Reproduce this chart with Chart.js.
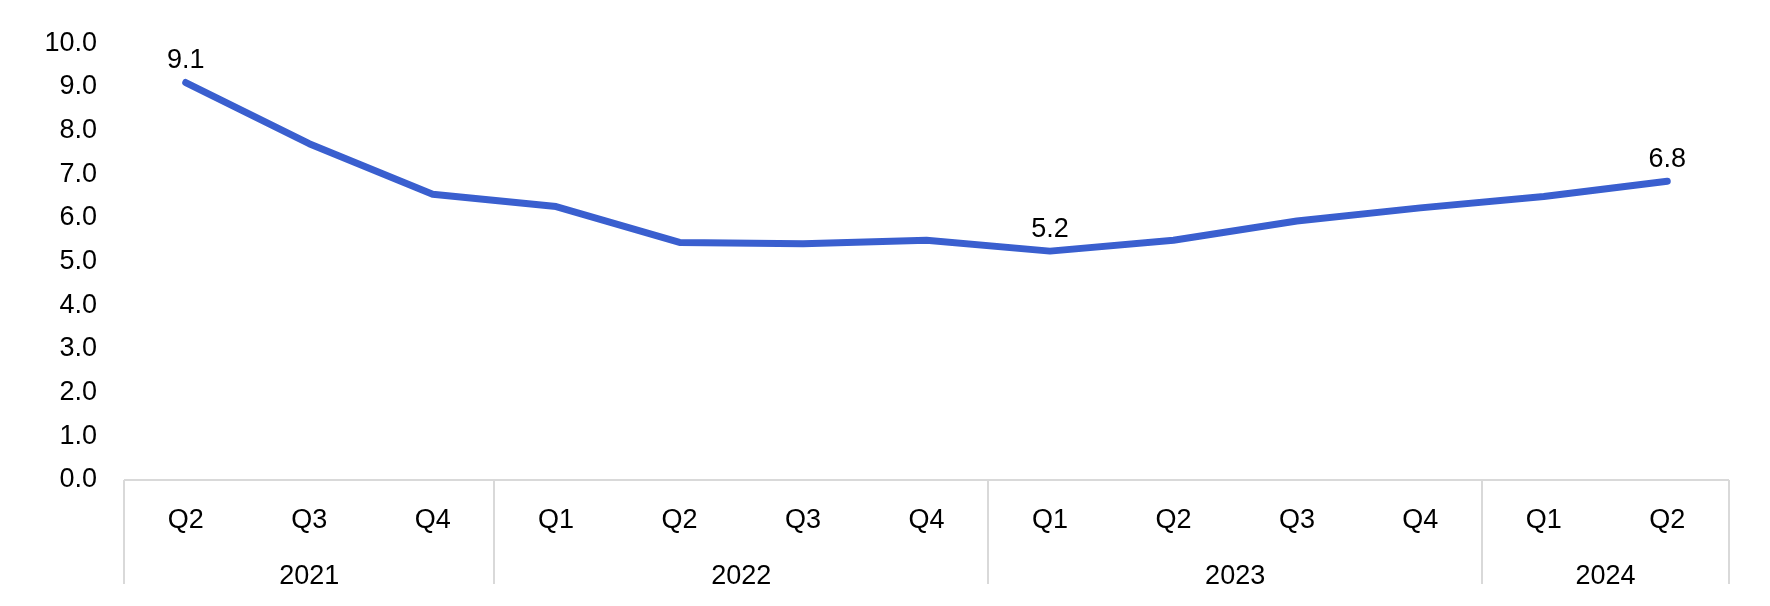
<!DOCTYPE html>
<html>
<head>
<meta charset="utf-8">
<script src="https://cdn.jsdelivr.net/npm/chart.js@4/dist/chart.umd.min.js"></script>
<style>
    html, body { margin: 0; padding: 0; background: #ffffff; }
    #wrap { width: 1770px; height: 606px; position: relative; }
</style>
</head>
<body>
<div id="wrap"><canvas id="lineChart"></canvas></div>
<script>
/* =========================
   DATA
========================= */

const quarters = ["Q2", "Q3", "Q4", "Q1", "Q2", "Q3", "Q4", "Q1", "Q2", "Q3", "Q4", "Q1", "Q2"];
const years = ["2021", "2022", "2023", "2024"];
const quartersPerYear = [3, 4, 4, 2];
const values = [9.1, 7.7, 6.54, 6.26, 5.44, 5.41, 5.49, 5.24, 5.49, 5.93, 6.23, 6.49, 6.84];
const labelledPoints = [0, 7, 12];

const FONT = "'Liberation Sans', Arial, Helvetica, sans-serif";
const LINE_GREY = "#d9d9d9";

/* =========================
   CATEGORY BOXES + YEAR ROW
========================= */

const yearAxisPlugin = {
    id: "yearAxis",
    afterDraw(chart) {
        const ctx = chart.ctx;
        const x = chart.scales.x;
        const area = chart.chartArea;
        const bottom = 584;
        const half = (x.getPixelForValue(1) - x.getPixelForValue(0)) / 2;

        ctx.save();
        ctx.strokeStyle = LINE_GREY;
        ctx.lineWidth = 2;

        ctx.beginPath();
        ctx.moveTo(area.left, area.bottom);
        ctx.lineTo(area.right, area.bottom);
        ctx.stroke();

        let start = 0;
        const edges = [x.getPixelForValue(0) - half];
        years.forEach((year, i) => {
            const end = start + quartersPerYear[i] - 1;
            edges.push(x.getPixelForValue(end) + half);

            const mid = (x.getPixelForValue(start) + x.getPixelForValue(end)) / 2;
            ctx.fillStyle = "#000000";
            ctx.font = "27px " + FONT;
            ctx.textAlign = "center";
            ctx.textBaseline = "middle";
            ctx.fillText(year, mid, 577);

            start = end + 1;
        });

        edges.forEach(px => {
            ctx.beginPath();
            ctx.moveTo(Math.round(px), area.bottom);
            ctx.lineTo(Math.round(px), bottom);
            ctx.stroke();
        });

        ctx.restore();
    }
};

/* =========================
   DATA LABELS
========================= */

const pointLabelPlugin = {
    id: "pointLabels",
    afterDatasetsDraw(chart) {
        const ctx = chart.ctx;
        const meta = chart.getDatasetMeta(0);

        ctx.save();
        ctx.fillStyle = "#000000";
        ctx.font = "27px " + FONT;
        ctx.textAlign = "center";
        ctx.textBaseline = "middle";

        labelledPoints.forEach(i => {
            const pt = meta.data[i];
            ctx.fillText(values[i].toFixed(1), pt.x, pt.y - 22);
        });

        ctx.restore();
    }
};

/* =========================
   CHART
========================= */

const canvas = document.getElementById("lineChart");

new Chart(canvas, {

    type: "line",

    data: {
        labels: quarters,
        datasets: [{
            data: values,
            borderColor: "#3a5fcf",
            borderWidth: 7,
            borderCapStyle: "round",
            borderJoinStyle: "round",
            pointRadius: 0,
            tension: 0,
            fill: false
        }]
    },

    options: {
        responsive: true,
        maintainAspectRatio: false,
        animation: false,

        layout: {
            padding: { top: 36, right: 41, bottom: 0, left: 0 }
        },

        plugins: {
            legend: { display: false },
            tooltip: { enabled: false }
        },

        scales: {
            x: {
                offset: true,
                grid: { display: false, drawTicks: false },
                border: { display: false },
                ticks: {
                    color: "#000000",
                    font: { family: FONT, size: 27 },
                    padding: 24,
                    maxRotation: 0,
                    autoSkip: false
                },
                afterFit(scale) { scale.height = 126; }
            },
            y: {
                min: 0,
                max: 10,
                grid: { display: false, drawTicks: false },
                border: { display: false },
                ticks: {
                    stepSize: 1,
                    color: "#000000",
                    font: { family: FONT, size: 27 },
                    padding: 27,
                    callback: v => v.toFixed(1)
                },
                afterFit(scale) { scale.width = 124; }
            }
        }
    },

    plugins: [yearAxisPlugin, pointLabelPlugin]
});
</script>
</body>
</html>
